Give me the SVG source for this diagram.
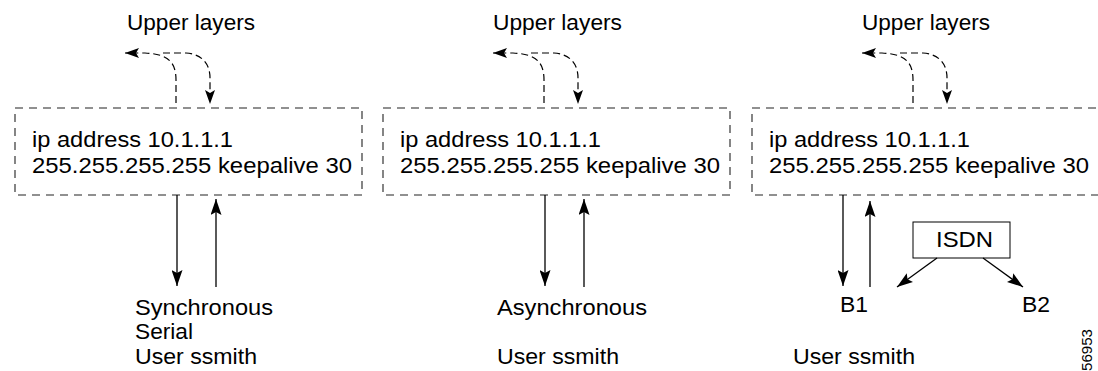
<svg xmlns="http://www.w3.org/2000/svg" width="1098" height="371" viewBox="0 0 1098 371">
<defs>
<style>
text{font-family:"Liberation Sans",Arial,Helvetica,sans-serif;font-size:21.5px;fill:#000}
.box{fill:none;stroke:#222;stroke-width:1.1;stroke-dasharray:8 6}
.dc{fill:none;stroke:#000;stroke-width:1.2;stroke-dasharray:7 4}
.ln{fill:none;stroke:#000;stroke-width:1.3}
.isdn{fill:#fff;stroke:#000;stroke-width:1}
</style>
<marker id="sa" viewBox="0 0 14 10" refX="14" refY="5" markerWidth="14" markerHeight="10" markerUnits="userSpaceOnUse" orient="auto">
<path d="M0,0 L14,5 L0,10 L3,5 z" fill="#000" stroke="none"/>
</marker>
<marker id="la" viewBox="0 0 16 11" refX="16" refY="5.5" markerWidth="16" markerHeight="11" markerUnits="userSpaceOnUse" orient="auto">
<path d="M0,0 L16,5.5 L0,11 L3,5.5 z" fill="#000" stroke="none"/>
</marker>
</defs>

<g id="node-box1">
<rect class="box" x="15" y="108" width="347" height="87"/>
<text x="32" y="147" textLength="201" lengthAdjust="spacingAndGlyphs">ip address 10.1.1.1</text>
<text x="32" y="173" textLength="320" lengthAdjust="spacingAndGlyphs">255.255.255.255 keepalive 30</text>
</g>
<g id="node-box2">
<rect class="box" x="383" y="108" width="347" height="87"/>
<text x="400" y="147" textLength="201" lengthAdjust="spacingAndGlyphs">ip address 10.1.1.1</text>
<text x="400" y="173" textLength="320" lengthAdjust="spacingAndGlyphs">255.255.255.255 keepalive 30</text>
</g>
<g id="node-box3">
<rect class="box" x="752" y="108" width="347" height="87"/>
<text x="769" y="147" textLength="201" lengthAdjust="spacingAndGlyphs">ip address 10.1.1.1</text>
<text x="769" y="173" textLength="320" lengthAdjust="spacingAndGlyphs">255.255.255.255 keepalive 30</text>
</g>

<g id="node-upper1"><text x="127" y="30" textLength="128" lengthAdjust="spacingAndGlyphs">Upper layers</text></g>
<g id="node-upper2"><text x="493" y="30" textLength="129" lengthAdjust="spacingAndGlyphs">Upper layers</text></g>
<g id="node-upper3"><text x="862" y="30" textLength="128" lengthAdjust="spacingAndGlyphs">Upper layers</text></g>

<g id="node-sync">
<text x="135" y="315" textLength="138" lengthAdjust="spacingAndGlyphs">Synchronous</text>
<text x="135" y="339" textLength="58" lengthAdjust="spacingAndGlyphs">Serial</text>
<text x="135" y="364" textLength="122" lengthAdjust="spacingAndGlyphs">User ssmith</text>
</g>
<g id="node-async">
<text x="497" y="315" textLength="150" lengthAdjust="spacingAndGlyphs">Asynchronous</text>
<text x="497" y="364" textLength="122" lengthAdjust="spacingAndGlyphs">User ssmith</text>
</g>
<g id="node-b1"><text x="840" y="312" textLength="28" lengthAdjust="spacingAndGlyphs">B1</text></g>
<g id="node-b2"><text x="1022" y="312" textLength="28" lengthAdjust="spacingAndGlyphs">B2</text></g>
<g id="node-user3"><text x="793" y="364" textLength="122" lengthAdjust="spacingAndGlyphs">User ssmith</text></g>
<g id="node-isdn">
<rect class="isdn" x="913" y="222" width="97" height="36"/>
<text x="936" y="247" textLength="57" lengthAdjust="spacingAndGlyphs">ISDN</text>
</g>
<g id="node-figid">
<text transform="translate(1092,371) rotate(-90)" style="font-size:15px" textLength="42" lengthAdjust="spacingAndGlyphs">56953</text>
</g>

<g id="connectors">
<path class="dc" d="M176,103 L176,80 C176,62 168,54 145,53 L125,53" marker-end="url(#sa)"/>
<path class="dc" d="M163,53 L186,53 C200,54 210,62 210,78 L210,104" marker-end="url(#sa)"/>
<path class="dc" d="M544,103 L544,80 C544,62 536,54 513,53 L493,53" marker-end="url(#sa)"/>
<path class="dc" d="M531,53 L554,53 C568,54 578,62 578,78 L578,104" marker-end="url(#sa)"/>
<path class="dc" d="M913,103 L913,80 C913,62 905,54 882,53 L862,53" marker-end="url(#sa)"/>
<path class="dc" d="M900,53 L923,53 C937,54 947,62 947,78 L947,104" marker-end="url(#sa)"/>

<path class="ln" d="M177,195 L177,286" marker-end="url(#la)"/>
<path class="ln" d="M216,287 L216,199" marker-end="url(#la)"/>
<path class="ln" d="M545,195 L545,286" marker-end="url(#la)"/>
<path class="ln" d="M584,287 L584,199" marker-end="url(#la)"/>
<path class="ln" d="M843,195 L843,286" marker-end="url(#la)"/>
<path class="ln" d="M870,287 L870,201" marker-end="url(#la)"/>
<path class="ln" d="M937,258 L897,287" marker-end="url(#la)"/>
<path class="ln" d="M983,258 L1023,287" marker-end="url(#la)"/>
</g>
</svg>
